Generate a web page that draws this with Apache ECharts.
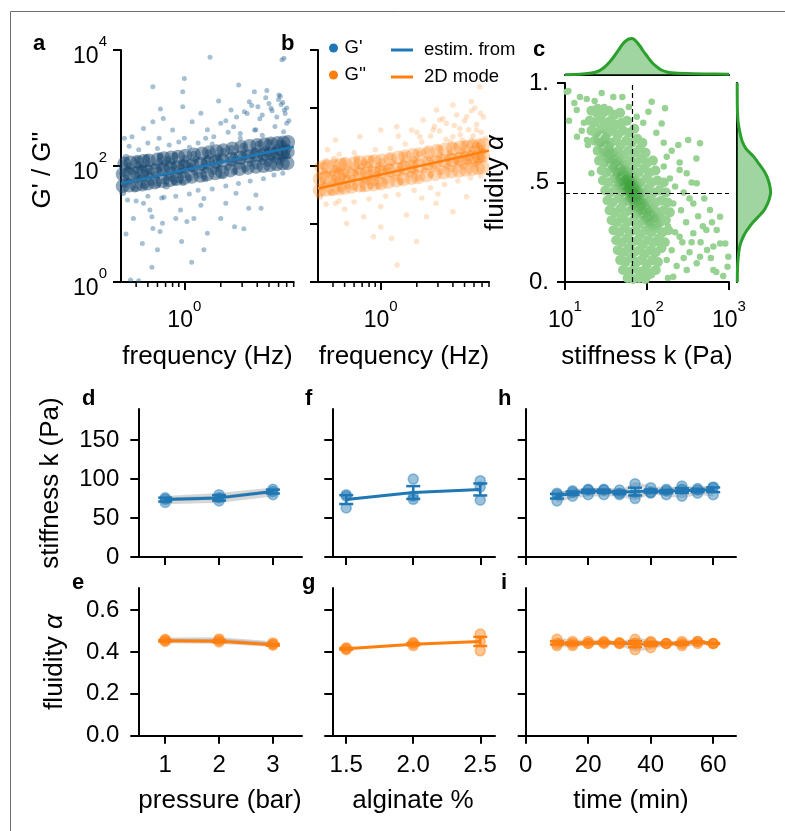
<!DOCTYPE html>
<html>
<head>
<meta charset="utf-8">
<script src="https://cdn.jsdelivr.net/npm/echarts@6/dist/echarts.min.js"></script>
<style>
  html, body { margin: 0; padding: 0; background: #fff; }
  #chart { width: 785px; height: 831px; }
</style>
</head>
<body>
<div id="chart"></div>
<script>
// ---- panel a / b : G' and G'' vs frequency ----
const freqRange = [0.3, 8];
const minorFreqTicks = [0.4, 0.5, 0.6, 0.7, 0.8, 0.9, 2, 3, 4, 5, 6, 7, 8];
const fitFreq = [0.3, 8];
const gPrimeFit = [50, 215];
const gDoublePrimeFit = [41, 184];

// [frequency Hz, G' Pa]
const gPrimeSparse = [
  [1.63,7480],[6.65,7190],[6.4,6800],[1.0,3240],[0.55,2330],[0.97,1910],[2.81,2490],[3.79,1910],[4.8,2000],
  [6.04,1675],[1.92,1320],[3.44,1280],[6.0,1400],[6.7,925],[0.97,1050],[0.635,960],[0.67,660],[0.55,580],
  [0.46,445],[0.32,300],[0.37,320],[0.8,417],[1.16,580],[1.37,810],[1.55,420],[2.0,545],[2.43,925],[2.55,475],
  [3.13,865],[4.05,1050],[4.4,760],[5.2,990],[6.5,1250],[7.0,545],[3.8,417],[2.9,365],[1.75,320],[1.0,300],[0.62,300],
  [2.2,600],[2.7,700],[3.3,800],[3.6,1100],[4.2,650],[4.7,1500],[5.3,900],[5.8,700],[6.3,1150],[6.8,800],
  [3.9,420],[5.6,480],[6.6,390],[4.4,340],[2.9,300],[2.3,380],[5.0,1200],[6.2,1600],[7.3,600],[7.0,1000],
  [0.5,250],[0.6,200],[0.75,230],[0.9,260],[1.1,210],[1.3,250],[0.42,190],[0.35,220],[1.5,300],[1.7,240],
  [2.67,34],[3.4,18.6],[4.3,18.6],[3.9,31.6],[2.2,22.7],[1.37,21],[0.93,17.4],[1.2,12.5],[1.05,11],[0.85,12.5],
  [0.66,10.3],[0.54,13.4],[0.46,22.8],[0.38,12.5],[0.34,25.9],[0.33,6.7],[0.55,8.4],[0.63,7.4],[0.45,4.6],
  [0.6,3.6],[0.95,5],[1.45,3.6],[1.55,6.9],[1.15,2.2],[0.54,1.8],[0.36,1.08],[0.42,1.05],[2.6,9],[3.1,8.3],
  [2.0,12.5],[1.45,27.6],[0.68,29],[0.52,17.4],
  [0.4,25],[0.5,30],[0.65,28],[0.85,30],[1.1,33],[1.3,38],[1.7,40],[2.2,45],[2.8,50],[3.5,55],[4.5,60],[5.5,70],[6.5,75]
];
const gPrimeDense = [
  [0.31,35],[0.32,48],[0.33,62],[0.31,75],[0.34,88],[0.32,110],[0.33,140],[0.35,55],[0.36,80],[0.35,100],
  [0.39,40],[0.4,58],[0.41,70],[0.4,85],[0.42,105],[0.41,130],[0.43,62],[0.44,95],
  [0.46,45],[0.47,60],[0.48,75],[0.46,90],[0.5,110],[0.49,140],[0.52,68],[0.51,82],[0.53,52],
  [0.56,100],[0.58,70],[0.6,48],[0.61,85],[0.62,120],[0.59,62],[0.64,92],[0.63,150],
  [0.68,55],[0.7,75],[0.72,95],[0.69,110],[0.74,65],[0.73,130],[0.71,45],
  [0.78,60],[0.8,85],[0.82,100],[0.79,120],[0.85,70],[0.84,150],[0.83,52],
  [0.9,58],[0.92,80],[0.94,96],[0.96,115],[0.98,70],[1.0,88],[1.02,135],[1.04,105],[0.97,52],
  [1.1,62],[1.15,90],[1.18,110],[1.22,78],[1.25,130],[1.2,160],[1.12,100],
  [1.35,70],[1.4,95],[1.45,115],[1.5,85],[1.55,135],[1.6,105],[1.58,170],[1.48,60],
  [1.75,80],[1.8,120],[1.85,100],[1.9,145],[1.95,90],[2.0,125],[2.05,70],[2.1,180],
  [2.3,95],[2.4,130],[2.5,110],[2.55,155],[2.6,80],[2.45,200],[2.65,125],
  [2.8,100],[2.9,140],[3.0,120],[3.1,170],[3.2,90],[3.05,220],[3.3,145],
  [3.5,110],[3.6,150],[3.7,130],[3.8,185],[3.9,100],[4.0,160],[4.1,240],[4.2,135],
  [4.4,120],[4.5,170],[4.6,145],[4.8,200],[4.9,110],[5.0,165],[5.1,260],[5.2,140],
  [5.4,130],[5.5,180],[5.7,155],[5.8,210],[6.0,120],[6.1,170],[6.2,250],[6.3,145],
  [6.5,135],[6.7,185],[6.8,160],[6.9,215],[7.1,150],[7.2,195],[6.6,240]
];
const gPrimeCore = [
  [0.31,45],[0.31,72],[0.32,110],[0.35,46],[0.35,74],[0.36,115],[0.4,47],[0.4,76],[0.41,118],
  [0.45,48],[0.45,78],[0.46,122],[0.5,50],[0.5,80],[0.51,125],[0.57,52],[0.58,84],[0.6,130],
  [0.66,55],[0.67,88],[0.68,136],[0.76,57],[0.77,92],[0.78,140],[0.87,60],[0.88,95],[0.89,145],
  [1.0,62],[1.0,98],[1.02,150],[1.15,65],[1.17,104],[1.2,158],[1.35,68],[1.37,109],[1.4,165],
  [1.55,72],[1.58,114],[1.6,172],[1.8,75],[1.82,119],[1.85,180],[2.05,78],[2.08,124],[2.1,186],
  [2.4,84],[2.45,133],[2.5,200],[2.85,89],[2.9,141],[2.95,212],[3.35,93],[3.4,148],[3.45,222],
  [3.9,97],[3.95,154],[4.0,230],[4.5,100],[4.55,159],[4.6,238],[5.1,104],[5.15,164],[5.2,245],
  [5.8,107],[5.85,168],[5.9,250],[6.5,110],[6.55,172],[6.6,255],[7.1,112],[7.15,175],[7.2,260]
];

// [frequency Hz, G'' Pa]
const gDoublePrimeSparse = [
  [6.7,2330],[5.7,1290],[4.0,1130],[2.92,925],[2.26,620],[5.2,710],[6.8,810],[6.3,417],[4.56,445],[3.53,545],
  [2.74,417],[1.81,417],[1.36,475],[1.0,417],[0.67,320],[0.42,280],[0.36,190],[4.0,320],[5.7,280],[2.12,320],[3.1,620],
  [2.2,260],[2.6,330],[3.1,400],[3.5,290],[4.1,500],[4.6,350],[5.0,600],[5.4,420],[5.9,330],[6.3,520],[6.9,380],
  [7.2,700],[4.3,760],[3.3,650],[2.8,480],[5.7,900],[6.1,1000],[1.6,240],[1.2,200],[0.9,190],[0.6,170],[0.45,160],
  [1.4,330],[2.0,380],[7.5,300],[4.8,280],[3.8,260],
  [0.87,6.0],[1.23,5.7],[1.99,5.0],[1.37,1.96],[4.0,16.3],[2.41,13.4],[1.64,14.3],[0.72,13.4],[0.52,10.2],
  [1.0,8.9],[0.42,22.7],[2.9,22.7],[5.2,29.5],
  [0.35,22],[0.45,25],[0.6,24],[0.8,27],[1.1,30],[1.4,32],[1.9,38],[2.6,42],[3.4,48],[4.4,55],[5.6,62],[6.8,68],
  [0.5,18],[1.0,20],[2.2,28],[3.0,33]
];
const gDoublePrimeDense = [
  [0.31,30],[0.32,42],[0.33,55],[0.31,68],[0.34,80],[0.32,100],[0.35,48],[0.36,72],[0.35,120],
  [0.39,35],[0.4,50],[0.41,62],[0.4,75],[0.42,92],[0.43,56],[0.44,84],[0.41,130],
  [0.46,40],[0.47,53],[0.48,66],[0.46,80],[0.5,98],[0.49,125],[0.52,60],[0.51,72],[0.53,46],
  [0.56,88],[0.58,62],[0.6,43],[0.61,76],[0.62,105],[0.59,55],[0.64,82],[0.63,135],
  [0.68,50],[0.7,67],[0.72,84],[0.69,98],[0.74,58],[0.73,115],[0.71,40],
  [0.78,54],[0.8,75],[0.82,90],[0.79,106],[0.85,63],[0.84,135],[0.83,46],
  [0.9,52],[0.92,71],[0.94,85],[0.96,102],[0.98,62],[1.0,78],[1.02,120],[1.04,93],[0.97,46],
  [1.1,55],[1.15,80],[1.18,98],[1.22,70],[1.25,115],[1.2,145],[1.12,90],
  [1.35,62],[1.4,85],[1.45,102],[1.5,76],[1.55,120],[1.6,94],[1.58,155],[1.48,54],
  [1.75,72],[1.8,106],[1.85,90],[1.9,130],[1.95,80],[2.0,112],[2.05,62],[2.1,165],
  [2.3,85],[2.4,116],[2.5,98],[2.55,140],[2.6,72],[2.45,185],[2.65,110],
  [2.8,90],[2.9,125],[3.0,108],[3.1,155],[3.2,80],[3.05,200],[3.3,130],
  [3.5,98],[3.6,135],[3.7,116],[3.8,170],[3.9,90],[4.0,145],[4.1,220],[4.2,120],
  [4.4,108],[4.5,152],[4.6,130],[4.8,185],[4.9,98],[5.0,150],[5.1,240],[5.2,125],
  [5.4,116],[5.5,165],[5.7,140],[5.8,195],[6.0,108],[6.1,155],[6.2,230],[6.3,130],
  [6.5,120],[6.7,170],[6.8,145],[6.9,200],[7.1,135],[7.2,180],[6.6,220]
];
const gDoublePrimeCore = [
  [0.31,38],[0.31,60],[0.32,95],[0.35,39],[0.35,62],[0.36,98],[0.4,40],[0.4,64],[0.41,100],
  [0.45,41],[0.45,66],[0.46,104],[0.5,42],[0.5,68],[0.51,107],[0.57,44],[0.58,70],[0.6,111],
  [0.66,46],[0.67,72],[0.68,115],[0.76,47],[0.77,74],[0.78,118],[0.87,48],[0.88,76],[0.89,121],
  [1.0,50],[1.0,79],[1.02,125],[1.15,53],[1.17,84],[1.2,132],[1.35,56],[1.37,89],[1.4,140],
  [1.55,59],[1.58,94],[1.6,147],[1.8,62],[1.82,98],[1.85,154],[2.05,64],[2.08,102],[2.1,160],
  [2.4,69],[2.45,110],[2.5,172],[2.85,73],[2.9,117],[2.95,183],[3.35,77],[3.4,123],[3.45,192],
  [3.9,80],[3.95,128],[4.0,200],[4.5,83],[4.55,133],[4.6,208],[5.1,86],[5.15,138],[5.2,215],
  [5.8,89],[5.85,142],[5.9,222],[6.5,92],[6.55,146],[6.6,228],[7.1,94],[7.15,150],[7.2,234]
];

// ---- panel c : fluidity vs stiffness ----
const kMedian = 66;
const alphaMedian = 0.447;
// [stiffness k Pa, fluidity alpha]
const cellsBody = [
  [21,.86],[25,.87],[29,.85],[34,.86],[40,.84],[47,.85],
  [20,.81],[23,.8],[27,.82],[31,.8],[36,.81],[42,.79],[49,.8],[57,.81],
  [21,.76],[24,.75],[28,.77],[33,.75],[38,.76],[44,.74],[51,.76],[60,.75],[70,.77],
  [23,.71],[27,.7],[31,.72],[36,.7],[42,.71],[48,.69],[56,.71],[65,.7],[76,.72],[88,.7],
  [25,.66],[29,.65],[34,.67],[39,.65],[45,.66],[52,.64],[60,.66],[70,.65],[82,.67],[96,.65],
  [26,.61],[30,.6],[35,.62],[41,.6],[47,.61],[55,.59],[63,.61],[74,.6],[86,.62],[100,.6],[118,.61],
  [28,.56],[32,.55],[38,.57],[44,.55],[51,.56],[59,.54],[68,.56],[79,.55],[92,.57],[108,.55],[127,.56],
  [29,.51],[34,.5],[40,.52],[46,.5],[54,.51],[62,.49],[72,.51],[84,.5],[98,.52],[114,.5],[134,.51],[160,.5],
  [31,.46],[36,.45],[42,.47],[49,.45],[57,.46],[66,.44],[77,.46],[89,.45],[104,.47],[121,.45],[142,.46],[170,.45],
  [33,.41],[38,.4],[45,.42],[52,.4],[60,.41],[70,.39],[81,.41],[95,.4],[110,.42],[128,.4],[150,.41],[178,.4],
  [35,.36],[41,.35],[48,.37],[55,.35],[64,.36],[74,.34],[86,.36],[100,.35],[117,.37],[136,.35],[160,.36],[190,.35],
  [37,.31],[43,.3],[50,.32],[58,.3],[68,.31],[79,.29],[92,.31],[107,.3],[124,.32],[145,.3],[170,.31],
  [39,.26],[46,.25],[53,.27],[62,.25],[72,.26],[84,.24],[97,.26],[113,.25],[132,.27],[155,.25],[182,.26],
  [42,.21],[49,.2],[57,.22],[66,.2],[77,.21],[89,.19],[103,.21],[120,.2],[140,.22],[165,.2],
  [44,.16],[52,.15],[60,.17],[70,.15],[81,.16],[94,.14],[110,.16],[128,.15],[150,.17],
  [47,.11],[55,.1],[64,.12],[74,.1],[86,.11],[100,.09],[117,.11],[136,.1],
  [51,.06],[60,.05],[70,.07],[81,.05],[94,.06],[110,.04],[128,.06],
  [58,.02],[68,.015],[80,.02],[95,.015]
];
const cellsSparse = [
  [10.5,.956],[11,.96],[15.2,.93],[18.4,.92],[23,.91],[28,.95],[38.8,.93],[13.9,.864],[11.2,.81],[114,.906],
  [166,.873],[151,.797],[75,.83],[104,.856],[19,.688],[18.5,.713],[21,.546],[14,.73],[318,.714],[443,.697],
  [241,.688],[305,.546],[404,.496],[174,.63],[250,.563],[209,.395],[367,.395],[586,.362],[777,.328],[708,.261],
  [980,.127],[960,.077],[645,.178],[443,.127],[305,.06],[209,.027],[174,.11],[119,.06],[250,.228],[367,.245],
  [530,.261],[780,.194],[900,.194],[540,.161],[404,.094],[645,.06],[144,.194],[119,.278],[150,.328],
  [280,.45],[330,.42],[220,.48],[260,.36],[300,.3],[420,.33],[480,.28],[350,.2],[200,.16],[230,.08],[280,.12],
  [600,.12],[700,.05],[850,.03],[180,.02],[250,.6],[200,.66],[160,.7],[130,.75],[90,.8],[60,.88],[50,.93],
  [17,.8],[16,.76],[13,.9],[24,.84],[30,.88],[35,.78],[400,.62],[500,.42],[190,.52],[350,.5],[160,.58],
  [140,.47],[620,.3],[450,.2],[330,.15],[220,.25],[270,.2],[180,.28]
];
const cellsCore = [
  [28,.72],[32,.67],[36,.63],[40,.6],[44,.57],[48,.55],[52,.52],[56,.5],[60,.48],[63,.47],[66,.46],[70,.44],
  [74,.42],[80,.4],[86,.38],[93,.36],[100,.34],[110,.32],[120,.3],[62,.49],[68,.43],[58,.5],[72,.45],[66,.48],
  [64,.44],[76,.39],[54,.54],[50,.5]
];
// marginal densities
const kdeK = [10, 15, 20, 25, 30, 35, 40, 45, 50, 55, 60, 65, 70, 75, 82, 90, 100, 110, 120, 135, 150, 175, 200, 300, 500, 1000];
const kdeKDens = [0.3, 0.8, 1.7, 3.5, 7.5, 13, 19, 25, 30.5, 34, 36, 36.5, 35.5, 33, 29, 24, 19, 14.5, 11, 7.5, 5, 3, 2.2, 1.4, 1, 0.8];
const kdeAlpha = [0, .05, .1, .15, .19, .23, .26, .3, .33, .36, .395, .42, .445, .47, .5, .53, .56, .6, .63, .67, .71, .75, .8, .85, .9, 1];
const kdeAlphaDens = [0.3, 0.4, 0.8, 1.8, 3.3, 6.5, 10, 16, 21.7, 27, 30.7, 32.5, 33.5, 33.3, 32, 30, 26.7, 21, 16.7, 9, 5, 3, 1.2, 0.5, 0.3, 0.2];

// ---- panels d-i ----
const pressure = [1, 2, 3];
const stiffPressureReps = [[76, 80, 87], [70, 72, 80], [74, 76, 84]];
const stiffPressureMean = [73.7, 75.9, 84];
const stiffPressureErr = [2.5, 3.5, 2.5];
const fluidPressureReps = [[.46, .462, .443], [.45, .447, .432], [.455, .455, .437]];
const fluidPressureMean = [.453, .451, .434];
const fluidPressureErr = [.004, .005, .004];

const alginate = [1.5, 2.0, 2.5];
const stiffAlginateReps = [[80, 100, 98], [78, 78, 90], [63, 74, 73]];
const stiffAlginateMean = [73.7, 82.8, 86.7];
const stiffAlginateErr = [5.7, 8.2, 7.7];
const fluidAlginateReps = [[.42, .44, .485], [.41, .445, .45], [.415, .43, .405]];
const fluidAlginateMean = [.415, .437, .45];
const fluidAlginateErr = [.004, .005, .022];

const time = [10, 15, 20, 25, 30, 35, 40, 45, 50, 55, 60];
const stiffTimeReps = [
  [80, 85, 86, 87, 82, 94, 89, 87, 87, 88, 90],
  [72, 78, 80, 80, 80, 75, 83, 80, 78, 82, 80],
  [82, 83, 87, 86, 86, 83, 82, 85, 91, 86, 89]
];
const stiffTimeMean = [78, 82, 84.3, 84.3, 82.7, 84, 84.7, 84, 85.3, 85.3, 86.3];
const stiffTimeErr = [3, 2, 2, 2, 2, 5, 2, 2, 3, 2, 3];
const fluidTimeReps = [
  [.46, .45, .45, .45, .44, .46, .45, .44, .45, .45, .44],
  [.43, .43, .44, .44, .44, .41, .42, .44, .43, .44, .44],
  [.44, .44, .44, .445, .445, .44, .445, .44, .44, .45, .44]
];
const fluidTimeMean = [.443, .44, .443, .445, .442, .437, .438, .44, .44, .447, .44];
const fluidTimeErr = [.008, .006, .003, .003, .002, .014, .009, .002, .006, .003, .002];

// ---- styling ----
const FONT = '"Liberation Sans", Arial, Helvetica, sans-serif';
const BLUE = '#1f77b4', ORANGE = '#ff7f0e', GREEN = '#2ca02c';
const lg = Math.log10;
const toLog = pts => pts.map(p => [lg(p[0]), lg(p[1])]);
const toLogX = pts => pts.map(p => [lg(p[0]), p[1]]);

const powRich = {
  b: { fontSize: 23, fontFamily: FONT, color: '#000', padding: [13, 0, 0, 0] },
  s: { fontSize: 15, fontFamily: FONT, color: '#000', padding: [0, 0, 16, 0] }
};
const powFmt = v => '{b|10}{s|' + Math.round(v) + '}';

function axis(grid, min, max, ticks, opt) {
  opt = opt || {};
  return {
    type: 'value', gridIndex: grid, min: min, max: max,
    axisLine: { show: opt.line !== false, onZero: false, lineStyle: { color: '#000', width: 2 } },
    axisTick: { show: !!ticks, length: 8, customValues: ticks || [], lineStyle: { color: '#000', width: 2 } },
    axisLabel: {
      show: !!opt.fmt, customValues: ticks || [], formatter: opt.fmt, margin: opt.margin == null ? 14 : opt.margin,
      color: '#000', fontSize: 24, fontFamily: FONT, rich: powRich
    },
    splitLine: { show: false }
  };
}

function minorTicks(idx, vals) {
  return {
    type: 'custom', xAxisIndex: idx, yAxisIndex: idx, silent: true, z: 5,
    data: vals.map(v => [lg(v), 0]),
    renderItem: (params, api) => {
      const p = api.coord([api.value(0), api.value(1)]);
      return { type: 'line', shape: { x1: p[0], y1: p[1], x2: p[0], y2: p[1] + 5 },
        style: { stroke: '#000', lineWidth: 1.5 } };
    }
  };
}

function errRender(color) {
  return (params, api) => {
    const x = api.value(0), m = api.value(1), e = api.value(2);
    const lo = api.coord([x, m - e]), hi = api.coord([x, m + e]);
    const w = 7;
    const style = { stroke: color, lineWidth: 2.5, fill: null };
    return { type: 'group', children: [
      { type: 'line', shape: { x1: lo[0], y1: lo[1], x2: hi[0], y2: hi[1] }, style: style },
      { type: 'line', shape: { x1: lo[0] - w, y1: lo[1], x2: lo[0] + w, y2: lo[1] }, style: style },
      { type: 'line', shape: { x1: hi[0] - w, y1: hi[1], x2: hi[0] + w, y2: hi[1] }, style: style }
    ] };
  };
}

function lowerPanel(idx, xs, reps, mean, err, color, repLines) {
  const out = [];
  if (repLines) {
    reps.forEach(r => out.push({
      type: 'line', xAxisIndex: idx, yAxisIndex: idx, silent: true, z: 1,
      data: xs.map((x, i) => [x, r[i]]), symbol: 'none',
      lineStyle: { color: 'rgba(120,120,120,0.3)', width: 3.5 }
    }));
  }
  const pts = [];
  reps.forEach(r => xs.forEach((x, i) => pts.push([x, r[i]])));
  out.push({
    type: 'scatter', xAxisIndex: idx, yAxisIndex: idx, silent: true, z: 2,
    data: pts, symbolSize: 10,
    itemStyle: { color: color, opacity: 0.45, borderColor: color, borderWidth: 1.5 }
  });
  out.push({
    type: 'line', xAxisIndex: idx, yAxisIndex: idx, silent: true, z: 3,
    data: xs.map((x, i) => [x, mean[i]]), symbol: 'none',
    lineStyle: { color: color, width: 3 }
  });
  out.push({
    type: 'custom', xAxisIndex: idx, yAxisIndex: idx, silent: true, z: 3,
    data: xs.map((x, i) => [x, mean[i], err[i]]), renderItem: errRender(color)
  });
  return out;
}

function txt(text, x, y, opt) {
  opt = opt || {};
  return {
    type: 'text', x: x, y: y, rotation: opt.rot || 0, silent: true, z: 10,
    style: {
      text: text, fill: '#000', fontSize: opt.size || 26, fontWeight: opt.bold ? 'bold' : 'normal',
      fontFamily: FONT, align: opt.align || 'center', verticalAlign: 'middle',
      textAlign: opt.align || 'center', textVerticalAlign: 'middle', rich: opt.rich
    }
  };
}
const alphaRich = { i: { fontStyle: 'italic', fontSize: 26, fontFamily: FONT, fill: '#000', color: '#000' } };

const chart = echarts.init(document.getElementById('chart'));
const lfMin = lg(freqRange[0]), lfMax = lg(freqRange[1]);

const grids = [
  { left: 121, top: 50, width: 172.7, height: 232 },   // a
  { left: 318, top: 50, width: 171, height: 232 },     // b
  { left: 565, top: 83, width: 164, height: 199 },     // c
  { left: 565, top: 33, width: 164, height: 42 },      // c top marginal
  { left: 737, top: 83, width: 40, height: 199 },      // c right marginal
  { left: 138.3, top: 409, width: 163.7, height: 148 },// d
  { left: 332.3, top: 409, width: 162.7, height: 148 },// f
  { left: 525.7, top: 409, width: 210.3, height: 148 },// h
  { left: 138.3, top: 588, width: 163.7, height: 147.7 },// e
  { left: 332.3, top: 588, width: 162.7, height: 147.7 },// g
  { left: 525.7, top: 588, width: 210.3, height: 147.7 } // i
].map(g => Object.assign({ outerBoundsMode: 'none', containLabel: false }, g));

const cFmt = v => (v === 0 ? '0.' : v === 1 ? '1.' : '.5');
const oneDec = v => v.toFixed(1);

const xAxes = [
  axis(0, lfMin, lfMax, [0], { fmt: powFmt, margin: 14.5 }),
  axis(1, lfMin, lfMax, [0], { fmt: powFmt, margin: 14.5 }),
  axis(2, 1, 3, [1, 2, 3], { fmt: powFmt, margin: 14.5 }),
  axis(3, 1, 3, null),
  axis(4, 0, 40, null, { line: false }),
  axis(5, 0.5, 3.54, [1, 2, 3]),
  axis(6, 1.396, 2.61, [1.5, 2, 2.5]),
  axis(7, 0, 67.3, [0, 20, 40, 60]),
  axis(8, 0.5, 3.54, [1, 2, 3], { fmt: String, margin: 18 }),
  axis(9, 1.396, 2.61, [1.5, 2, 2.5], { fmt: oneDec, margin: 18 }),
  axis(10, 0, 67.3, [0, 20, 40, 60], { fmt: String, margin: 18 })
];
const yAxes = [
  axis(0, 0, 4, [0, 2, 4], { fmt: powFmt, margin: 14 }),
  axis(1, 0, 4, [0, 1, 2, 3, 4]),
  axis(2, 0, 1, [0, 0.5, 1], { fmt: cFmt, margin: 16 }),
  axis(3, 0, 42, null, { line: false }),
  axis(4, 0, 1, null),
  axis(5, 0, 190, [0, 50, 100, 150], { fmt: String, margin: 19 }),
  axis(6, 0, 190, [0, 50, 100, 150]),
  axis(7, 0, 190, [0, 50, 100, 150]),
  axis(8, 0, 0.705, [0, 0.2, 0.4, 0.6], { fmt: oneDec, margin: 19 }),
  axis(9, 0, 0.705, [0, 0.2, 0.4, 0.6]),
  axis(10, 0, 0.705, [0, 0.2, 0.4, 0.6])
];

const series = [
  // a
  { name: "G'", type: 'scatter', xAxisIndex: 0, yAxisIndex: 0, silent: true, symbolSize: 5,
    data: toLog(gPrimeSparse), itemStyle: { color: '#1f5f90', opacity: 0.4 } },
  { name: "G'", type: 'scatter', xAxisIndex: 0, yAxisIndex: 0, silent: true, symbolSize: 7,
    data: toLog(gPrimeDense), itemStyle: { color: '#17476d', opacity: 0.42 } },
  { name: "G'", type: 'scatter', xAxisIndex: 0, yAxisIndex: 0, silent: true, symbolSize: 14,
    data: toLog(gPrimeCore), itemStyle: { color: '#17456c', opacity: 0.48 } },
  { name: 'estim. from', type: 'line', xAxisIndex: 0, yAxisIndex: 0, silent: true, z: 4, color: BLUE,
    data: toLog(fitFreq.map((f, i) => [f, gPrimeFit[i]])), symbol: 'none', lineStyle: { color: BLUE, width: 2.5 } },
  minorTicks(0, minorFreqTicks),
  // b
  { name: "G''", type: 'scatter', xAxisIndex: 1, yAxisIndex: 1, silent: true, symbolSize: 5.5,
    data: toLog(gDoublePrimeSparse), itemStyle: { color: ORANGE, opacity: 0.22 } },
  { name: "G''", type: 'scatter', xAxisIndex: 1, yAxisIndex: 1, silent: true, symbolSize: 7,
    data: toLog(gDoublePrimeDense), itemStyle: { color: ORANGE, opacity: 0.28 } },
  { name: "G''", type: 'scatter', xAxisIndex: 1, yAxisIndex: 1, silent: true, symbolSize: 14,
    data: toLog(gDoublePrimeCore), itemStyle: { color: ORANGE, opacity: 0.3 } },
  { name: '2D mode', type: 'line', xAxisIndex: 1, yAxisIndex: 1, silent: true, z: 4, color: ORANGE,
    data: toLog(fitFreq.map((f, i) => [f, gDoublePrimeFit[i]])), symbol: 'none', lineStyle: { color: ORANGE, width: 2.5 } },
  minorTicks(1, minorFreqTicks),
  // c
  { type: 'scatter', xAxisIndex: 2, yAxisIndex: 2, silent: true, symbolSize: 6.5,
    data: toLogX(cellsSparse), itemStyle: { color: '#97d293', opacity: 1 } },
  { type: 'scatter', xAxisIndex: 2, yAxisIndex: 2, silent: true, symbolSize: 10,
    data: toLogX(cellsBody), itemStyle: { color: '#97d293', opacity: 1 } },
  { type: 'scatter', xAxisIndex: 2, yAxisIndex: 2, silent: true, symbolSize: 16, z: 3,
    data: toLogX(cellsCore),
    itemStyle: { color: GREEN, opacity: 0.1, shadowBlur: 10, shadowColor: 'rgba(44,160,44,0.6)' },
    markLine: {
      silent: true, symbol: 'none', label: { show: false }, animation: false,
      lineStyle: { color: '#000', type: [5, 3], width: 1.2, opacity: 1 },
      data: [
        [{ coord: [lg(kMedian), 0] }, { coord: [lg(kMedian), 1] }],
        [{ coord: [1, alphaMedian] }, { coord: [3, alphaMedian] }]
      ]
    } },
  { type: 'line', xAxisIndex: 3, yAxisIndex: 3, silent: true, smooth: 0.3,
    data: kdeK.map((k, i) => [lg(k), kdeKDens[i]]), symbol: 'none',
    lineStyle: { color: GREEN, width: 3 }, areaStyle: { color: GREEN, opacity: 0.45 } },
  { type: 'custom', xAxisIndex: 4, yAxisIndex: 4, silent: true,
    data: kdeAlpha.map((a, i) => [kdeAlphaDens[i], a]),
    renderItem: (params, api) => {
      if (params.dataIndex !== 0) return null;
      const pts = kdeAlpha.map((a, i) => api.coord([kdeAlphaDens[i], a]));
      const b0 = api.coord([0, kdeAlpha[0]]), b1 = api.coord([0, kdeAlpha[kdeAlpha.length - 1]]);
      return { type: 'group', children: [
        { type: 'polygon', shape: { points: [b0].concat(pts, [b1]), smooth: 0.25 }, style: { fill: 'rgba(44,160,44,0.45)' } },
        { type: 'polyline', shape: { points: pts, smooth: 0.25 }, style: { stroke: GREEN, lineWidth: 3, fill: null } }
      ] };
    } }
]
  .concat(lowerPanel(5, pressure, stiffPressureReps, stiffPressureMean, stiffPressureErr, BLUE, true))
  .concat(lowerPanel(6, alginate, stiffAlginateReps, stiffAlginateMean, stiffAlginateErr, BLUE, false))
  .concat(lowerPanel(7, time, stiffTimeReps, stiffTimeMean, stiffTimeErr, BLUE, true))
  .concat(lowerPanel(8, pressure, fluidPressureReps, fluidPressureMean, fluidPressureErr, ORANGE, true))
  .concat(lowerPanel(9, alginate, fluidAlginateReps, fluidAlginateMean, fluidAlginateErr, ORANGE, false))
  .concat(lowerPanel(10, time, fluidTimeReps, fluidTimeMean, fluidTimeErr, ORANGE, true));

const graphics = [
  { type: 'rect', silent: true, z: -1, shape: { x: 10.5, y: 11.5, width: 800, height: 840 },
    style: { fill: 'none', stroke: '#6e6e6e', lineWidth: 1 } },
  txt('a', 33, 44.4, { bold: true, size: 22, align: 'left' }),
  txt('b', 281, 44.4, { bold: true, size: 22, align: 'left' }),
  txt('c', 533, 50.4, { bold: true, size: 22, align: 'left' }),
  txt('d', 82, 399.4, { bold: true, size: 22, align: 'left' }),
  txt('f', 305, 399.4, { bold: true, size: 22, align: 'left' }),
  txt('h', 498, 399.4, { bold: true, size: 22, align: 'left' }),
  txt('e', 72, 583.4, { bold: true, size: 22, align: 'left' }),
  txt('g', 302, 583.4, { bold: true, size: 22, align: 'left' }),
  txt('i', 501, 583.4, { bold: true, size: 22, align: 'left' }),
  txt("G' / G''", 43, 170, { rot: Math.PI / 2 }),
  txt('frequency (Hz)', 207.5, 357),
  txt('frequency (Hz)', 404, 357),
  txt('fluidity {i|α}', 496, 183, { rot: Math.PI / 2, rich: alphaRich }),
  txt('stiffness k (Pa)', 647, 357),
  txt('stiffness k (Pa)', 51, 483, { rot: Math.PI / 2 }),
  txt('fluidity {i|α}', 55, 662, { rot: Math.PI / 2, rich: alphaRich }),
  txt('pressure (bar)', 220, 801),
  txt('alginate %', 413, 801),
  txt('time (min)', 631, 801)
];

chart.setOption({
  backgroundColor: '#fff',
  animation: false,
  textStyle: { fontFamily: FONT },
  grid: grids,
  xAxis: xAxes,
  yAxis: yAxes,
  legend: [
    { data: [{ name: "G'", itemStyle: { color: BLUE, opacity: 1 } }, { name: "G''", itemStyle: { color: ORANGE, opacity: 1 } }],
      orient: 'vertical', left: 324, top: 33, icon: 'circle', itemWidth: 12, itemHeight: 9, itemGap: 7,
      selectedMode: false, textStyle: { fontSize: 18.5, fontFamily: FONT, color: '#000', lineHeight: 20 } },
    { data: [{ name: 'estim. from', itemStyle: { color: BLUE } }, { name: '2D mode', itemStyle: { color: ORANGE } }],
      orient: 'vertical', left: 386, top: 35, icon: 'rect', itemWidth: 22, itemHeight: 3, itemGap: 7,
      selectedMode: false, textStyle: { fontSize: 18.5, fontFamily: FONT, color: '#000', lineHeight: 20, padding: [0, 0, 0, 6] } }
  ],
  graphic: graphics,
  series: series
});
</script>
</body>
</html>
